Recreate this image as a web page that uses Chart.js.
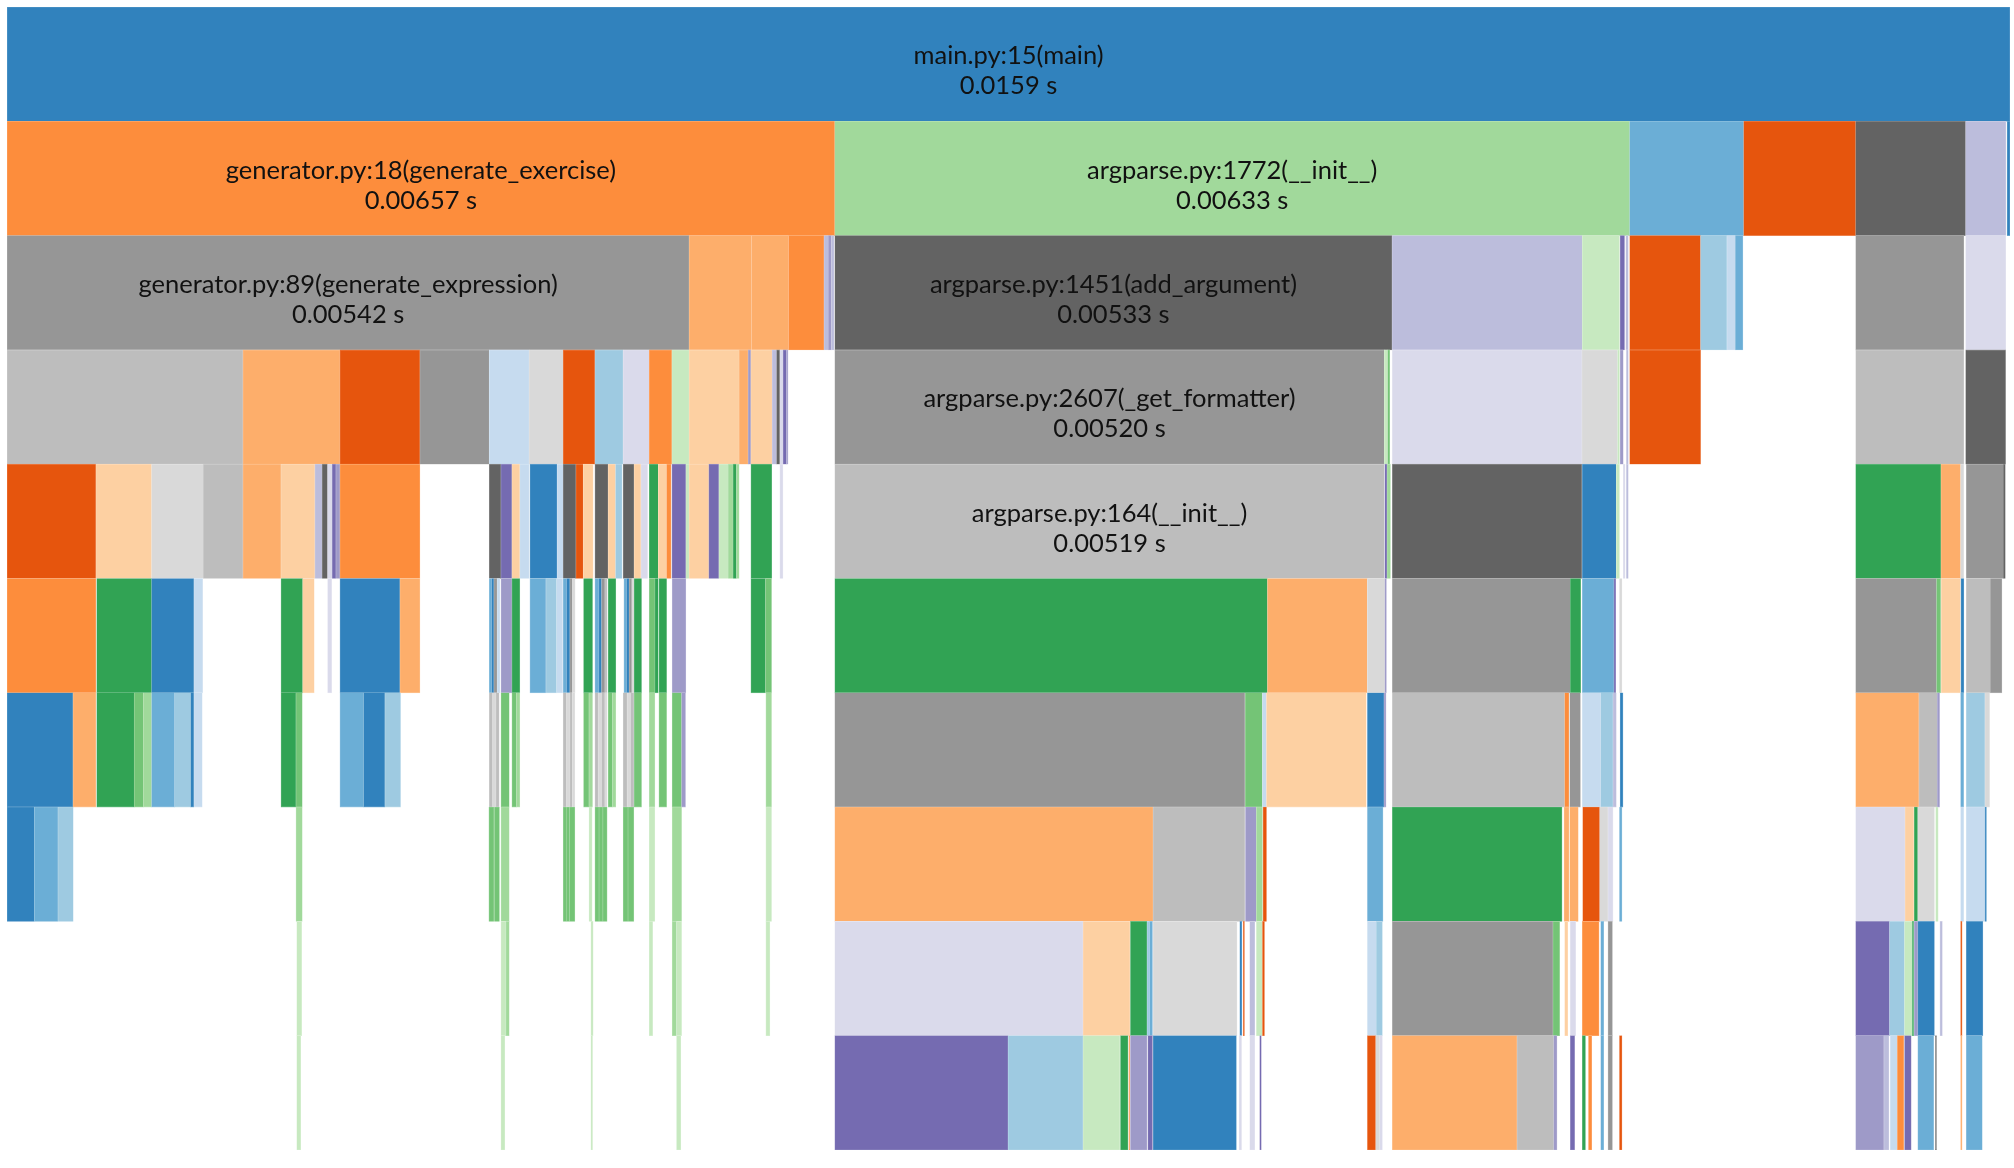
<!DOCTYPE html>
<html>
<head>
<meta charset="utf-8">
<script src="https://cdn.jsdelivr.net/npm/chart.js@4"></script>
<style>
  html, body { margin: 0; padding: 0; background: #fff; }
  canvas { display: block; }
</style>
</head>
<body>
<canvas id="icicle" width="2014" height="1168" style="width:2014px;height:1168px"></canvas>
<script>
// icicle of a cProfile run, widths in ms of the 15.9 ms root
// each node: [start, end, function group]
const level0 = [[0, 15.9, 0]];
const level1 = [
    [0, 6.571, 5], [6.571, 12.881, 10], [12.881, 13.786, 1], [13.786, 14.675, 4],
    [14.675, 15.548, 16], [15.548, 15.868, 14], [15.877, 15.9, 0]
];
const level2 = [
    [0, 5.415, 17], [5.415, 5.91, 6], [5.91, 6.204, 6], [6.204, 6.486, 5], [6.486, 6.52, 14], [6.52, 6.545, 13], [6.545, 6.565, 14],
    [6.571, 10.995, 16], [10.995, 12.505, 14], [12.505, 12.8, 11], [12.805, 12.84, 12], [12.85, 12.87, 14],
    [12.881, 13.444, 4], [13.444, 13.653, 2], [13.653, 13.72, 3], [13.72, 13.78, 1],
    [14.675, 15.534, 17], [15.548, 15.867, 15]
];
const level3 = [
    [0, 1.873, 18], [1.873, 2.643, 6], [2.643, 3.278, 4], [3.278, 3.828, 17], [3.828, 4.145, 3], [4.145, 4.415, 19],
    [4.415, 4.667, 4], [4.667, 4.891, 2], [4.891, 5.098, 15], [5.098, 5.278, 5], [5.278, 5.415, 11],
    [5.415, 5.812, 7], [5.812, 5.883, 6], [5.883, 5.905, 13], [5.905, 6.074, 7], [6.074, 6.109, 14], [6.109, 6.135, 16],
    [6.135, 6.161, 15], [6.161, 6.188, 12], [6.188, 6.2, 13],
    [6.571, 10.933, 17], [10.933, 10.96, 11], [10.96, 10.976, 9],
    [10.997, 12.502, 15], [12.502, 12.785, 19], [12.785, 12.8, 11], [12.805, 12.83, 13], [12.855, 12.87, 14],
    [12.881, 13.444, 4],
    [14.675, 15.534, 18], [15.548, 15.865, 16]
];
const level4 = [
    [0, 0.706, 4], [0.706, 1.148, 7], [1.148, 1.558, 19], [1.558, 1.873, 18],
    [1.873, 2.175, 6], [2.175, 2.444, 7], [2.444, 2.502, 14], [2.502, 2.545, 16], [2.545, 2.582, 15], [2.582, 2.611, 12], [2.611, 2.643, 13],
    [2.643, 3.278, 5],
    [3.828, 3.921, 16], [3.921, 4.008, 12], [4.008, 4.071, 7], [4.071, 4.145, 3],
    [4.151, 4.367, 0], [4.367, 4.415, 3],
    [4.415, 4.516, 16], [4.516, 4.574, 4], [4.574, 4.653, 7],
    [4.667, 4.772, 16], [4.772, 4.831, 7], [4.831, 4.883, 2],
    [4.891, 4.978, 16], [4.978, 5.032, 7], [5.032, 5.085, 15],
    [5.098, 5.17, 8], [5.17, 5.236, 7], [5.236, 5.272, 5],
    [5.278, 5.389, 12], [5.389, 5.415, 11],
    [5.415, 5.571, 7], [5.571, 5.651, 12], [5.651, 5.725, 11], [5.725, 5.764, 10], [5.764, 5.791, 8], [5.791, 5.812, 10],
    [5.905, 6.071, 8], [6.135, 6.16, 15],
    [6.571, 10.933, 18], [10.937, 10.955, 12], [10.955, 10.982, 10],
    [10.997, 12.5, 16], [12.505, 12.775, 0], [12.775, 12.8, 11], [12.83, 12.845, 15], [12.855, 12.87, 14],
    [14.675, 15.352, 8], [15.352, 15.508, 6], [15.508, 15.532, 19],
    [15.553, 15.847, 17], [15.847, 15.863, 16]
];
const level5 = [
    [0, 0.706, 5], [0.712, 1.148, 8], [1.148, 1.484, 0], [1.484, 1.553, 3],
    [2.175, 2.347, 8], [2.347, 2.439, 7], [2.545, 2.577, 15],
    [2.643, 3.119, 0], [3.119, 3.278, 6],
    [3.828, 3.847, 1], [3.847, 3.865, 0], [3.865, 3.891, 17], [3.891, 3.913, 3],
    [3.921, 4.008, 13], [4.008, 4.071, 8],
    [4.151, 4.278, 1], [4.278, 4.363, 2], [4.363, 4.41, 3],
    [4.415, 4.442, 1], [4.442, 4.468, 0], [4.468, 4.489, 17], [4.489, 4.51, 19],
    [4.577, 4.648, 8],
    [4.667, 4.698, 1], [4.698, 4.72, 0], [4.72, 4.746, 17], [4.746, 4.764, 18],
    [4.772, 4.833, 8],
    [4.897, 4.918, 1], [4.918, 4.939, 0], [4.939, 4.96, 17], [4.96, 4.976, 19],
    [4.978, 5.037, 8],
    [5.098, 5.143, 9], [5.143, 5.17, 8], [5.175, 5.236, 8], [5.28, 5.389, 13],
    [5.905, 6.021, 8], [6.021, 6.069, 9],
    [6.571, 10.006, 8], [10.006, 10.799, 6], [10.799, 10.937, 19], [10.937, 10.95, 13],
    [10.997, 12.41, 17], [12.41, 12.492, 8],
    [12.505, 12.756, 1], [12.756, 12.77, 12], [12.8, 12.82, 19],
    [14.675, 15.317, 17], [15.317, 15.349, 9], [15.355, 15.506, 7], [15.51, 15.534, 0],
    [15.553, 15.744, 18], [15.744, 15.836, 17]
];
const level6 = [
    [0, 0.524, 0], [0.524, 0.706, 6],
    [0.712, 1.01, 8], [1.01, 1.082, 9], [1.082, 1.148, 10],
    [1.148, 1.331, 1], [1.331, 1.458, 2], [1.458, 1.484, 0], [1.484, 1.55, 3],
    [2.175, 2.294, 8], [2.294, 2.344, 9],
    [2.643, 2.831, 1], [2.831, 3.0, 0], [3.0, 3.124, 2],
    [3.828, 3.855, 18], [3.855, 3.881, 19], [3.881, 3.907, 18],
    [3.921, 3.987, 9], [4.008, 4.045, 9], [4.045, 4.071, 10],
    [4.415, 4.442, 18], [4.442, 4.468, 19], [4.468, 4.489, 18], [4.489, 4.508, 19],
    [4.577, 4.62, 9], [4.62, 4.648, 10],
    [4.667, 4.693, 18], [4.693, 4.72, 19], [4.72, 4.746, 18], [4.746, 4.764, 19],
    [4.772, 4.807, 9], [4.807, 4.833, 10],
    [4.891, 4.923, 18], [4.923, 4.95, 19], [4.95, 4.976, 18],
    [4.978, 5.037, 9], [5.098, 5.143, 10], [5.175, 5.236, 9],
    [5.28, 5.355, 9], [5.355, 5.386, 13], [6.024, 6.069, 10],
    [6.571, 9.825, 17], [9.83, 9.966, 9], [9.966, 9.998, 3],
    [9.998, 10.79, 7], [10.799, 10.931, 0], [10.931, 10.947, 13],
    [10.997, 12.365, 18], [12.365, 12.399, 5], [12.405, 12.49, 17],
    [12.505, 12.651, 3], [12.651, 12.749, 2], [12.749, 12.775, 14], [12.805, 12.828, 0],
    [14.675, 15.177, 6], [15.177, 15.323, 18], [15.323, 15.341, 13],
    [15.508, 15.532, 1], [15.553, 15.701, 2], [15.701, 15.738, 19]
];
const level7 = [
    [0, 0.217, 0], [0.217, 0.405, 1], [0.405, 0.526, 2],
    [2.294, 2.344, 10],
    [3.825, 3.865, 9], [3.869, 3.909, 9], [3.921, 3.987, 10],
    [4.415, 4.44, 9], [4.44, 4.466, 9], [4.466, 4.508, 9], [4.62, 4.645, 11],
    [4.667, 4.7, 9], [4.7, 4.73, 9], [4.73, 4.764, 9],
    [4.891, 4.93, 9], [4.93, 4.976, 9],
    [5.098, 5.143, 11], [5.28, 5.355, 10], [6.024, 6.069, 11],
    [6.571, 9.098, 6], [9.098, 9.825, 18], [9.831, 9.918, 13], [9.918, 9.966, 10], [9.971, 9.998, 4],
    [10.799, 10.923, 1],
    [10.997, 12.344, 8], [12.36, 12.4, 6], [12.405, 12.473, 6],
    [12.508, 12.643, 4], [12.643, 12.709, 19], [12.709, 12.749, 15], [12.8, 12.82, 1],
    [14.675, 15.067, 15], [15.067, 15.135, 7], [15.14, 15.167, 8],
    [15.168, 15.3, 19], [15.31, 15.33, 11], [15.508, 15.532, 3],
    [15.553, 15.701, 3], [15.701, 15.713, 0]
];
const level8 = [
    [2.3, 2.339, 11], [3.921, 3.96, 11], [3.96, 3.987, 10], [4.635, 4.653, 11],
    [5.098, 5.125, 11], [5.28, 5.315, 10], [5.315, 5.355, 11], [6.024, 6.056, 11],
    [6.571, 8.542, 15], [8.542, 8.913, 7], [8.918, 9.05, 8], [9.05, 9.07, 2], [9.07, 9.093, 1],
    [9.098, 9.764, 19], [9.786, 9.802, 0], [9.812, 9.823, 4],
    [9.865, 9.905, 14], [9.918, 9.966, 11], [9.966, 9.982, 4],
    [10.799, 10.87, 3], [10.87, 10.918, 2],
    [10.997, 12.272, 17], [12.272, 12.325, 9], [12.365, 12.39, 7], [12.41, 12.452, 15],
    [12.505, 12.638, 5], [12.651, 12.675, 1], [12.709, 12.744, 17],
    [14.675, 14.944, 12], [14.944, 15.063, 2], [15.063, 15.124, 11], [15.124, 15.135, 8],
    [15.14, 15.167, 13], [15.168, 15.3, 0], [15.344, 15.363, 14],
    [15.508, 15.52, 4], [15.553, 15.685, 0]
];
const level9 = [
    [2.3, 2.332, 11], [3.921, 3.952, 11], [4.635, 4.648, 11], [5.315, 5.349, 11],
    [6.571, 7.947, 12], [7.947, 8.542, 2],
    [8.542, 8.833, 11], [8.839, 8.899, 8], [8.905, 8.913, 5],
    [8.918, 9.05, 13], [9.056, 9.093, 12],
    [9.098, 9.759, 0], [9.78, 9.8, 15], [9.865, 9.905, 15], [9.944, 9.957, 12],
    [10.799, 10.865, 4], [10.865, 10.897, 19], [10.897, 10.918, 15],
    [10.997, 11.987, 6], [11.987, 12.278, 18], [12.278, 12.304, 13],
    [12.41, 12.444, 12], [12.505, 12.53, 8], [12.554, 12.58, 5], [12.651, 12.675, 1], [12.709, 12.744, 17], [12.8, 12.82, 4],
    [14.675, 14.899, 13], [14.899, 14.939, 14], [14.95, 15.006, 3], [15.006, 15.056, 5],
    [15.063, 15.116, 12], [15.168, 15.294, 1], [15.307, 15.317, 16],
    [15.508, 15.52, 6], [15.553, 15.68, 1]
];
const levels = [level0, level1, level2, level3, level4, level5, level6, level7, level8, level9];

// the named frames and their cumulative times (s)
const labelNames  = ['main.py:15(main)', 'generator.py:18(generate_exercise)', 'argparse.py:1772(__init__)',
                     'generator.py:89(generate_expression)', 'argparse.py:1451(add_argument)',
                     'argparse.py:2607(_get_formatter)', 'argparse.py:164(__init__)'];
const labelTimes  = [0.0159, 0.00657, 0.00633, 0.00542, 0.00533, 0.00520, 0.00519];
const labelLevels = [0, 1, 1, 2, 2, 3, 4];
const labelStarts = [0, 0, 6.571, 0, 6.571, 6.571, 6.571];

const totalMs = 15.9;
const depthIds = levels.map((_, i) => 'd' + i);

// d3 category20c
const palette = ['#3182bd', '#6baed6', '#9ecae1', '#c6dbef', '#e6550d', '#fd8d3c', '#fdae6b', '#fdd0a2',
                 '#31a354', '#74c476', '#a1d99b', '#c7e9c0', '#756bb1', '#9e9ac8', '#bcbddc', '#dadaeb',
                 '#636363', '#969696', '#bdbdbd', '#d9d9d9'];

function lighten(hex, k) {
    const n = parseInt(hex.slice(1), 16);
    const ch = [n >> 16, (n >> 8) & 255, n & 255].map(c => Math.round(c + (255 - c) * k));
    return 'rgb(' + ch.join(',') + ')';
}

const points = [], fills = [], edges = [];
levels.forEach((row, d) => {
    row.forEach(([s, e, f]) => {
        points.push({ x: [s, e], y: depthIds[d] });
        fills.push(palette[f]);
        edges.push(lighten(palette[f], 0.35));
    });
});

function findBar(level, start) {
    let offset = 0;
    for (let d = 0; d < level; d++) offset += levels[d].length;
    return offset + levels[level].findIndex(n => n[0] === start);
}

const frameLabels = {
    id: 'frameLabels',
    afterDatasetsDraw(chart) {
        const ctx  = chart.ctx;
        const meta = chart.getDatasetMeta(0);
        ctx.save();
        ctx.font = '25.5px Lato';
        ctx.fillStyle = '#111';
        ctx.textAlign = 'center';
        ctx.textBaseline = 'middle';
        labelNames.forEach((name, k) => {
            const bar = meta.data[findBar(labelLevels[k], labelStarts[k])];
            if (!bar) return;
            const cx = (bar.x + bar.base) / 2;
            ctx.fillText(name, cx, bar.y - 8);
            ctx.fillText(labelTimes[k].toPrecision(3) + ' s', cx, bar.y + 22);
        });
        ctx.restore();
    }
};

new Chart(document.getElementById('icicle'), {
    type: 'bar',
    data: {
        labels: depthIds,
        datasets: [{
            data: points,
            backgroundColor: fills,
            borderColor: edges,
            borderWidth: 0.6,
            borderSkipped: false,
            barPercentage: 1,
            categoryPercentage: 1
        }]
    },
    options: {
        indexAxis: 'y',
        responsive: false,
        devicePixelRatio: 1,
        animation: false,
        events: [],
        layout: { padding: { left: 7, right: 4, top: 7, bottom: 18 } },
        plugins: { legend: { display: false }, tooltip: { enabled: false } },
        scales: {
            x: { type: 'linear', min: 0, max: totalMs, display: false },
            y: { display: false }
        }
    },
    plugins: [frameLabels]
});
</script>
</body>
</html>
